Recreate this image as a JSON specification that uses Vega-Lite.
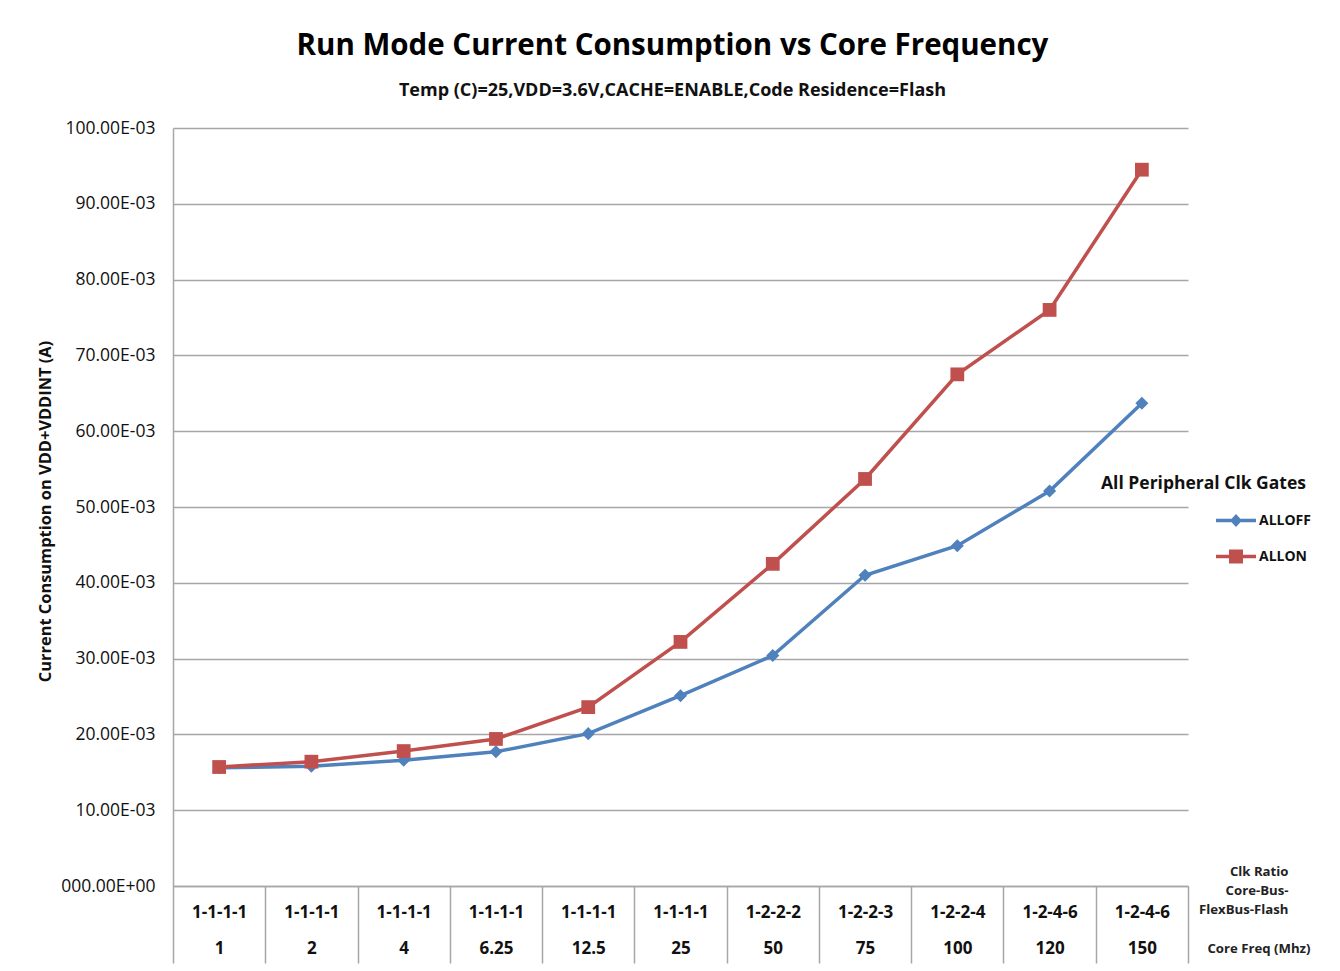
{
  "$schema": "https://vega.github.io/schema/vega-lite/v6.json",
  "width": 1015,
  "height": 758,
  "autosize": {"type": "none"},
  "padding": {"left": 173, "top": 128, "right": 152, "bottom": 85},
  "background": "white",
  "config": {"view": {"stroke": null}, "font": "Open Sans"},
  "title": {
    "text": "Run Mode Current  Consumption vs Core Frequency",
    "subtitle": "Temp (C)=25,VDD=3.6V,CACHE=ENABLE,Code Residence=Flash",
    "font": "Open Sans", "fontSize": 29.5, "fontWeight": "bold", "color": "#000",
    "subtitleFont": "Open Sans", "subtitleFontSize": 18, "subtitleFontWeight": "bold", "subtitleColor": "#111",
    "subtitlePadding": 21, "anchor": "middle", "dx": -8, "offset": 18
  },
  "data": {"values": [
    {"tick": "1-1-1-1|1", "series": "ALLOFF", "current": 0.0156},
    {"tick": "1-1-1-1|2", "series": "ALLOFF", "current": 0.0158},
    {"tick": "1-1-1-1|4", "series": "ALLOFF", "current": 0.0166},
    {"tick": "1-1-1-1|6.25", "series": "ALLOFF", "current": 0.0177},
    {"tick": "1-1-1-1|12.5", "series": "ALLOFF", "current": 0.0201},
    {"tick": "1-1-1-1|25", "series": "ALLOFF", "current": 0.0251},
    {"tick": "1-2-2-2|50", "series": "ALLOFF", "current": 0.0304},
    {"tick": "1-2-2-3|75", "series": "ALLOFF", "current": 0.0410},
    {"tick": "1-2-2-4|100", "series": "ALLOFF", "current": 0.0449},
    {"tick": "1-2-4-6|120", "series": "ALLOFF", "current": 0.0521},
    {"tick": "1-2-4-6|150", "series": "ALLOFF", "current": 0.0637},
    {"tick": "1-1-1-1|1", "series": "ALLON", "current": 0.0157},
    {"tick": "1-1-1-1|2", "series": "ALLON", "current": 0.0164},
    {"tick": "1-1-1-1|4", "series": "ALLON", "current": 0.0178},
    {"tick": "1-1-1-1|6.25", "series": "ALLON", "current": 0.0194},
    {"tick": "1-1-1-1|12.5", "series": "ALLON", "current": 0.0236},
    {"tick": "1-1-1-1|25", "series": "ALLON", "current": 0.0322},
    {"tick": "1-2-2-2|50", "series": "ALLON", "current": 0.0425},
    {"tick": "1-2-2-3|75", "series": "ALLON", "current": 0.0537},
    {"tick": "1-2-2-4|100", "series": "ALLON", "current": 0.0675},
    {"tick": "1-2-4-6|120", "series": "ALLON", "current": 0.0760},
    {"tick": "1-2-4-6|150", "series": "ALLON", "current": 0.0945}
  ]},
  "resolve": {"axis": {"x": "independent"}},
  "layer": [
    {
      "mark": {"type": "line", "strokeWidth": 3.5},
      "encoding": {
        "x": {
          "field": "tick", "type": "ordinal", "bandPosition": 0.5,
          "sort": ["1-1-1-1|1","1-1-1-1|2","1-1-1-1|4","1-1-1-1|6.25","1-1-1-1|12.5","1-1-1-1|25","1-2-2-2|50","1-2-2-3|75","1-2-2-4|100","1-2-4-6|120","1-2-4-6|150"],
          "scale": {"type": "band", "paddingInner": 0, "paddingOuter": 0},
          "axis": {
            "orient": "bottom",
            "labelExpr": "isValid(datum.value) ? split(datum.value, '|') : ''",
            "labelFont": "Open Sans", "labelFontSize": 17, "labelFontWeight": "bold", "labelColor": "#111",
            "labelLineHeight": 36, "labelAngle": 0, "labelBaseline": "top",
            "labelPadding": -59,
            "tickBand": "extent", "tickSize": 77, "tickColor": "#a6a6a6", "tickWidth": 1.5,
            "domainColor": "#a6a6a6", "domainWidth": 1.5,
            "grid": false,
            "title": ["Clk Ratio", "Core-Bus-", "FlexBus-Flash"],
            "titleFont": "Open Sans", "titleFontSize": 13.2, "titleFontWeight": "bold", "titleColor": "#222",
            "titleLineHeight": 19, "titleAlign": "right", "titleBaseline": "top",
            "titleX": 1115, "titleY": -21, "titleAngle": 0
          }
        },
        "y": {
          "field": "current", "type": "quantitative",
          "scale": {"domain": [0, 0.1], "nice": false, "zero": true},
          "axis": {
            "values": [0, 0.01, 0.02, 0.03, 0.04, 0.05, 0.06, 0.07, 0.08, 0.09, 0.1],
            "labelExpr": "datum.value == 0 ? '000.00E+00' : format(datum.value*1000, '.2f') + 'E-03'",
            "labelFont": "Open Sans", "labelFontSize": 17.5, "labelColor": "#111", "labelPadding": 18,
            "ticks": false, "domainColor": "#a6a6a6", "domainWidth": 1.5, "gridColor": "#a6a6a6", "gridWidth": 1.5,
            "title": "Current Consumption on VDD+VDDINT (A)",
            "titleFont": "Open Sans", "titleFontSize": 16.4, "titleFontWeight": "bold", "titleColor": "#111",
            "titleX": -128, "titleY": 383, "titleAlign": "center", "titleBaseline": "middle", "titleAngle": 270
          }
        },
        "color": {
          "field": "series", "type": "nominal",
          "scale": {"domain": ["ALLOFF", "ALLON"], "range": ["#4F81BD", "#C0504D"]},
          "legend": {
            "orient": "none", "legendX": 928, "legendY": 347, "padding": 0,
            "title": "All Peripheral Clk Gates", "titleLimit": 400,
            "titleFont": "Open Sans", "titleFontSize": 17.5, "titleFontWeight": "bold", "titleColor": "#111", "titlePadding": 8,
            "labelFont": "Open Sans", "labelFontSize": 14, "labelFontWeight": "bold", "labelColor": "#111",
            "symbolSize": 1600, "symbolOffset": 115, "labelOffset": 3, "rowPadding": 9,
            "symbolStrokeWidth": 0,
            "encode": {"symbols": {"update": {
              "shape": {"signal": "datum.value == 'ALLOFF' ? 'M-1,-0.085H1V0.085H-1Z M0,-0.33L0.3,0L0,0.33L-0.3,0Z' : 'M-1,-0.085H1V0.085H-1Z M-0.35,-0.35H0.35V0.35H-0.35Z'"},
              "fill": {"scale": "color", "field": "value"},
              "strokeWidth": {"value": 0}
            }}}
          }
        }
      }
    },
    {
      "transform": [{"filter": "datum.series == 'ALLOFF'"}],
      "mark": {"type": "point", "filled": true, "opacity": 1, "shape": "diamond", "size": 170},
      "encoding": {
        "x": {
          "field": "tick", "type": "ordinal", "bandPosition": 0.5,
          "sort": ["1-1-1-1|1","1-1-1-1|2","1-1-1-1|4","1-1-1-1|6.25","1-1-1-1|12.5","1-1-1-1|25","1-2-2-2|50","1-2-2-3|75","1-2-2-4|100","1-2-4-6|120","1-2-4-6|150"],
          "axis": {
            "orient": "bottom", "labels": false, "ticks": false, "domain": false, "grid": false,
            "title": "Core Freq (Mhz)",
            "titleFont": "Open Sans", "titleFontSize": 13.2, "titleFontWeight": "bold", "titleColor": "#222",
            "titleAlign": "right", "titleBaseline": "middle", "titleX": 1137, "titleY": 62, "titleAngle": 0
          }
        },
        "y": {"field": "current", "type": "quantitative"},
        "color": {"field": "series", "type": "nominal"}
      }
    },
    {
      "transform": [{"filter": "datum.series == 'ALLON'"}],
      "mark": {"type": "point", "filled": true, "opacity": 1, "shape": "square", "size": 190},
      "encoding": {
        "x": {
          "field": "tick", "type": "ordinal", "bandPosition": 0.5,
          "sort": ["1-1-1-1|1","1-1-1-1|2","1-1-1-1|4","1-1-1-1|6.25","1-1-1-1|12.5","1-1-1-1|25","1-2-2-2|50","1-2-2-3|75","1-2-2-4|100","1-2-4-6|120","1-2-4-6|150"],
          "axis": null
        },
        "y": {"field": "current", "type": "quantitative"},
        "color": {"field": "series", "type": "nominal"}
      }
    }
  ]
}
